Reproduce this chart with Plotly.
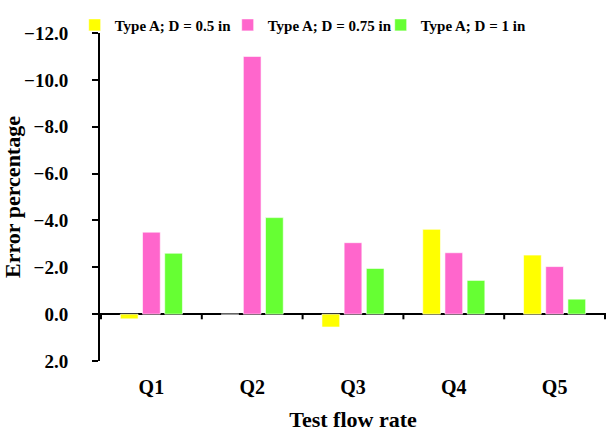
import plotly.graph_objects as go

categories = ["Q1", "Q2", "Q3", "Q4", "Q5"]
series_names = ["Type A; D = 0.5 in", "Type A; D = 0.75 in", "Type A; D = 1 in"]
d05_values = [0.2, 0.0, 0.55, -3.62, -2.52]
d075_values = [-3.5, -11.0, -3.05, -2.62, -2.03]
d1_values = [-2.6, -4.12, -1.95, -1.44, -0.64]
y_tick_values = [-12, -10, -8, -6, -4, -2, 0, 2]

colors = ["#FFFF00", "#FF66CC", "#66FF33"]
font_family = "Liberation Serif"

fig = go.Figure()
for name, vals, col in zip(series_names, [d05_values, d075_values, d1_values], colors):
    fig.add_trace(go.Bar(
        x=categories, y=vals, name=name,
        marker=dict(color=col, line=dict(color="rgba(255,255,255,0.6)", width=1)),
    ))

# small tick marks on the zero line at the category boundaries
for k in range(len(categories) + 1):
    fig.add_shape(type="line", xref="x", yref="y",
                  x0=k - 0.5, x1=k - 0.5, y0=0, y1=0.22,
                  line=dict(color="black", width=2))

fig.update_layout(
    width=608, height=432,
    margin=dict(l=100, r=2, t=33, b=71),
    paper_bgcolor="white", plot_bgcolor="white",
    barmode="group", bargap=0.34, bargroupgap=0.2,
    font=dict(family=font_family, color="black"),
    legend=dict(orientation="h", x=-0.050, y=1.024, yanchor="middle",
                font=dict(size=15, family=font_family, weight="bold"),
                entrywidth=108, entrywidthmode="pixels",
                itemwidth=30, tracegroupgap=0, bgcolor="rgba(0,0,0,0)"),
    xaxis=dict(
        showline=False, ticks="", showgrid=False, automargin=False,
        tickfont=dict(size=20, family=font_family, weight="bold"),
        ticklabelstandoff=12,
        title=dict(text="Test flow rate", standoff=26,
                   font=dict(size=22, family=font_family, weight="bold")),
    ),
    yaxis=dict(
        range=[2, -12], autorange=False, automargin=False,
        tickvals=y_tick_values, tickformat=".1f",
        showline=True, linecolor="black", linewidth=2,
        ticks="outside", ticklen=6, tickwidth=2, tickcolor="black",
        showgrid=False,
        zeroline=True, zerolinecolor="black", zerolinewidth=2,
        tickfont=dict(size=19, family=font_family, weight="bold"),
        ticklabelposition="outside",
        ticklabelstandoff=20,
        title=dict(text="Error percentage", standoff=0,
                   font=dict(size=22, family=font_family, weight="bold")),
    ),
)

fig.write_html("out.html")
